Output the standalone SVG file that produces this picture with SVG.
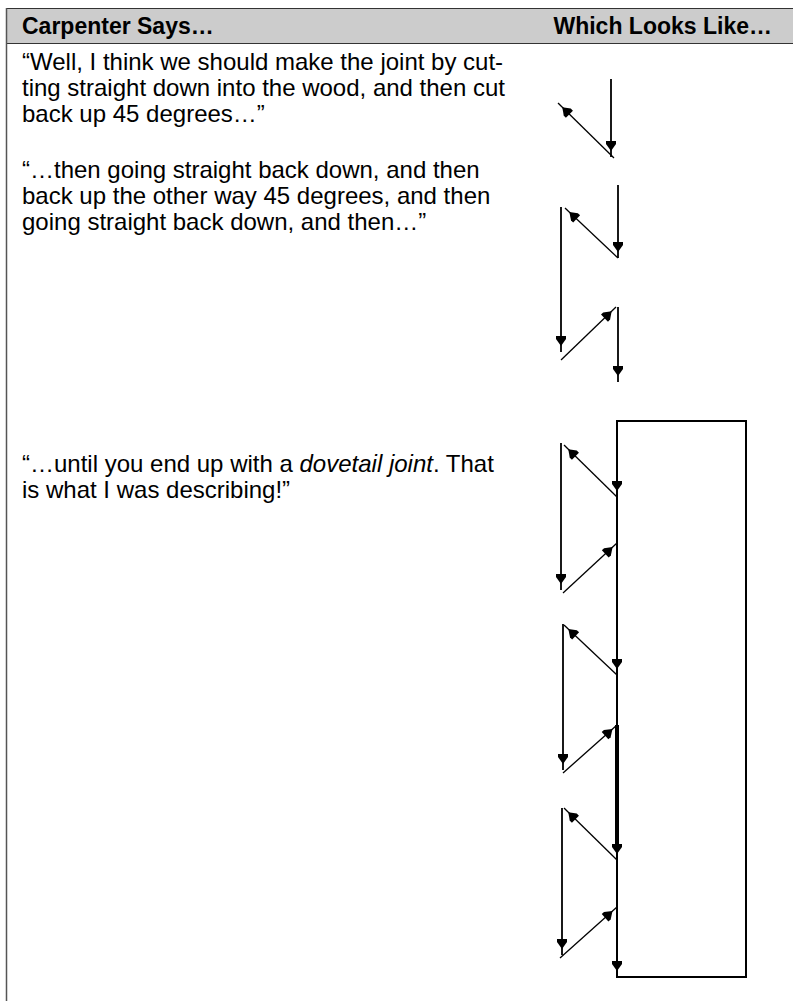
<svg xmlns="http://www.w3.org/2000/svg" width="793" height="1001" viewBox="0 0 793 1001">
<style>
.hdr{font-family:"Liberation Sans",Arial,sans-serif;font-weight:bold;font-size:23px;fill:#000}
.body{font-family:"Liberation Sans",Arial,sans-serif;font-size:24px;fill:#000}
.v{stroke:#000;stroke-width:1.8;fill:none;marker-end:url(#ah)}
.d{stroke:#000;stroke-width:1.3;fill:none;marker-end:url(#ah)}
</style>
<defs>
<marker id="ah" markerUnits="userSpaceOnUse" orient="auto" refX="6" refY="0" markerWidth="24" markerHeight="24" viewBox="-14 -12 24 24" overflow="visible">
<path d="M0,0 L-7,-5 L-10,-5 L-10,5 L-7,5 Z" fill="#000"/>
</marker>
</defs>
<rect width="793" height="1001" fill="#fff"/>
<g id="table">
<rect x="6" y="8" width="790" height="35" fill="#ccc"/>
<line x1="6" y1="8.5" x2="793" y2="8.5" stroke="#333" stroke-width="1"/>
<line x1="6" y1="43.5" x2="793" y2="43.5" stroke="#333" stroke-width="1"/>
<line x1="6.5" y1="8" x2="6.5" y2="1001" stroke="#555" stroke-width="1.5"/>
<text class="hdr" x="22" y="34">Carpenter Says…</text>
<text class="hdr" x="772" y="34" text-anchor="end">Which Looks Like…</text>
</g>
<g id="text1">
<text class="body" x="22" y="70">“Well, I think we should make the joint by cut-</text>
<text class="body" x="22" y="96">ting straight down into the wood, and then cut</text>
<text class="body" x="22" y="122">back up 45 degrees…”</text>
</g>
<g id="text2">
<text class="body" x="22" y="178">“…then going straight back down, and then</text>
<text class="body" x="22" y="204">back up the other way 45 degrees, and then</text>
<text class="body" x="22" y="230">going straight back down, and then…”</text>
</g>
<g id="text3">
<text class="body" x="22" y="472">“…until you end up with a <tspan font-style="italic">dovetail joint</tspan>. That</text>
<text class="body" x="22" y="498">is what I was describing!”</text>
</g>
<g id="fig1">
<line class="v" x1="611" y1="79" x2="611" y2="157"/>
<line class="d" x1="614" y1="158" x2="558" y2="103"/>
</g>
<g id="fig2">
<line class="v" x1="618" y1="185" x2="618" y2="258"/>
<line class="d" x1="618" y1="258" x2="565" y2="208"/>
<line class="v" x1="561" y1="207" x2="561" y2="352"/>
<line class="d" x1="561" y1="360" x2="616" y2="307"/>
<line class="v" x1="618" y1="307" x2="618" y2="382"/>
</g>
<g id="fig3">
<rect x="617" y="421" width="129" height="556" fill="none" stroke="#000" stroke-width="2"/>
<line x1="617" y1="725" x2="617" y2="848" stroke="#000" stroke-width="4"/>
<g id="connectors">
<line class="v" x1="617" y1="421" x2="617" y2="497"/>
<line class="d" x1="617" y1="497" x2="564" y2="445"/>
<line class="v" x1="561" y1="443" x2="561" y2="590"/>
<line class="d" x1="563" y1="593" x2="617" y2="543"/>
<line class="v" x1="617" y1="543" x2="617" y2="675"/>
<line class="d" x1="617" y1="675" x2="564" y2="625"/>
<line class="v" x1="563" y1="624" x2="563" y2="770"/>
<line class="d" x1="563" y1="773" x2="617" y2="725"/>
<line class="v" x1="617" y1="725" x2="617" y2="860"/>
<line class="d" x1="617" y1="860" x2="564" y2="808"/>
<line class="v" x1="562" y1="808" x2="562" y2="955"/>
<line class="d" x1="560" y1="958" x2="617" y2="907"/>
<line class="v" x1="617" y1="907" x2="617" y2="977"/>
</g>
</g>
</svg>
